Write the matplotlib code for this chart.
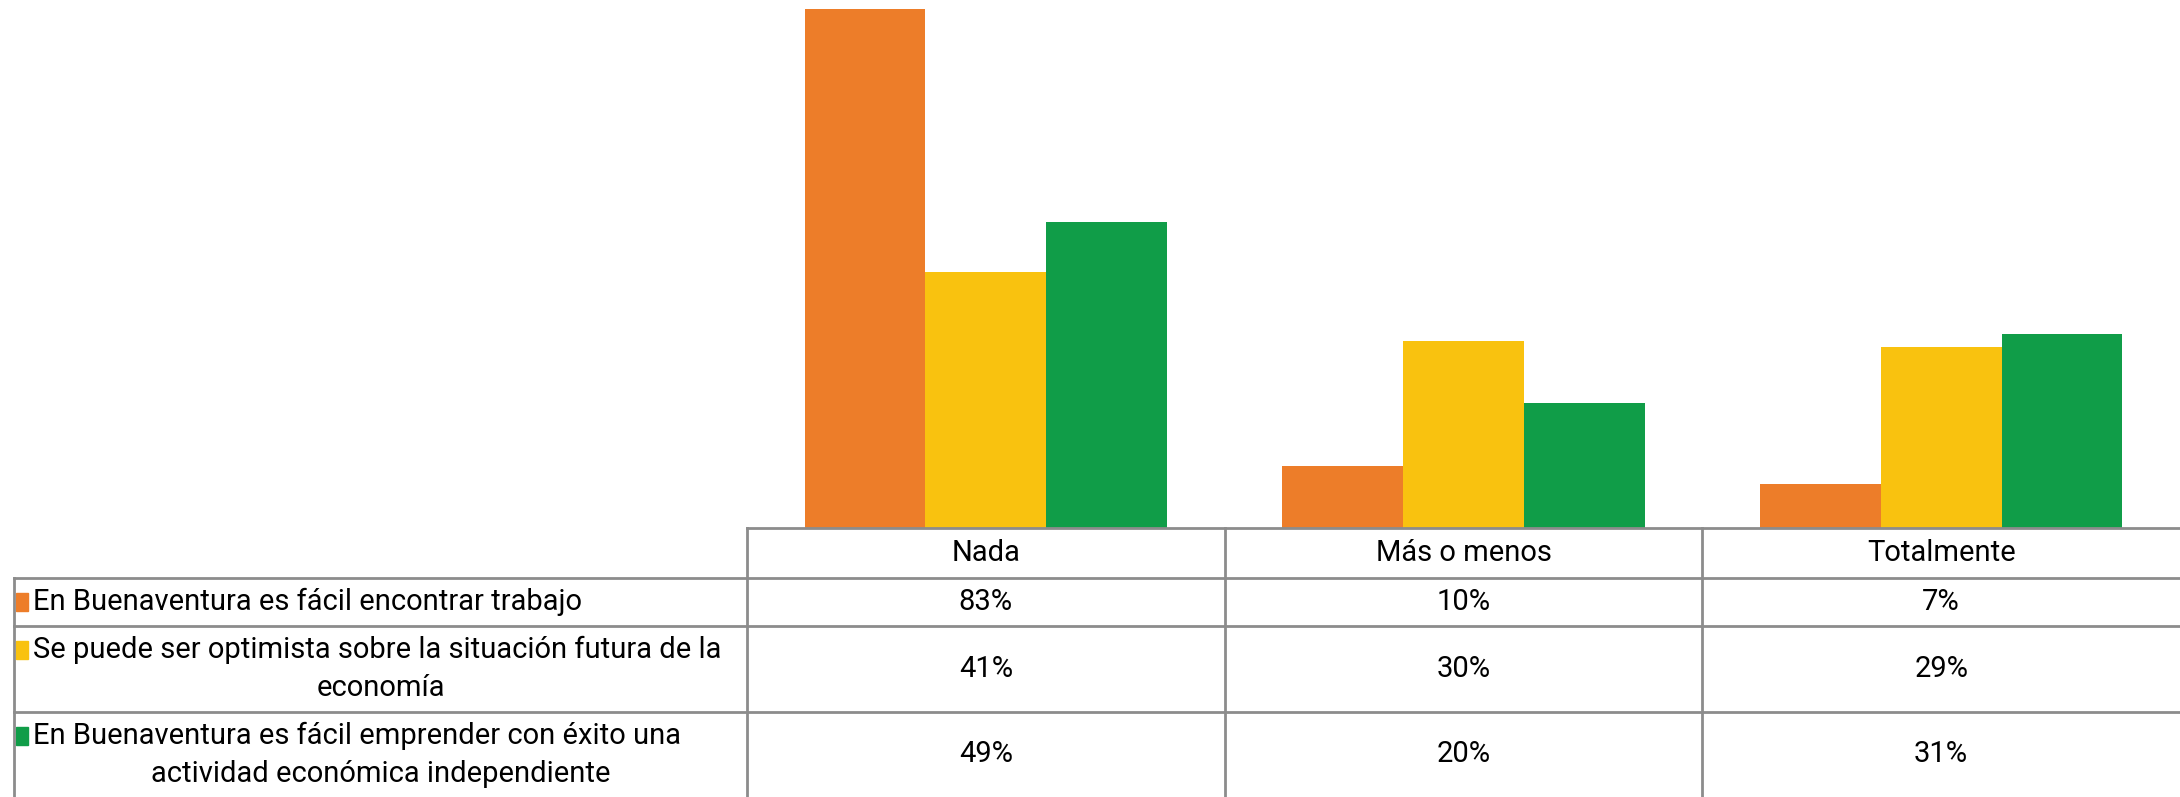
import numpy as np
import matplotlib.pyplot as plt
from matplotlib.patches import Rectangle

categories = ["Nada", "Más o menos", "Totalmente"]
series_names = [
    ["En Buenaventura es fácil encontrar trabajo"],
    ["Se puede ser optimista sobre la situación futura de la", "economía"],
    ["En Buenaventura es fácil emprender con éxito una", "actividad económica independiente"],
]
trabajo = [0.83, 0.10, 0.07]
optimista = [0.41, 0.30, 0.29]
emprender = [0.49, 0.20, 0.31]
colors = ["#ED7D29", "#F9C20F", "#109D48"]

plt.rcParams['font.family'] = ['Roboto', 'DejaVu Sans']

W, H = 2180, 797
fig = plt.figure(figsize=(W / 100, H / 100), dpi=100)

# zone du graphique (en pixels)
x0, base = 747, 528
ax = fig.add_axes([x0 / W, (H - base) / H, (W - x0) / W, base / H])
series = [trabajo, optimista, emprender]
x = np.arange(len(categories)) + 0.5
bw = 0.253
for i, (vals, c) in enumerate(zip(series, colors)):
    ax.bar(x + (i - 1) * bw, vals, bw, color=c, zorder=2)
ax.set_xlim(0, len(categories))
ax.set_ylim(0, 0.845)
ax.axis("off")

# tableau de données
tax = fig.add_axes([0, 0, 1, 1])
tax.set_xlim(0, W)
tax.set_ylim(H, 0)
tax.axis("off")
lc = "#8C8C8C"
lw = 2
rows = [base, 578, 626, 712, H]
colw = (W - x0) / len(categories)
cols = [x0 + k * colw for k in range(len(categories) + 1)]
left = 14

tax.plot([x0, W], [base, base], color=lc, lw=lw)
for y in rows[1:-1]:
    tax.plot([left, W], [y, y], color=lc, lw=lw)
tax.plot([left, left], [rows[1], H], color=lc, lw=lw)
for cx in cols[:-1]:
    tax.plot([cx, cx], [base, H], color=lc, lw=lw)

fs = 21
for k, cat in enumerate(categories):
    tax.text((cols[k] + cols[k + 1]) / 2, (rows[0] + rows[1]) / 2, cat,
             ha="center", va="center", fontsize=fs)

for r, (name, vals, c) in enumerate(zip(series_names, series, colors)):
    ytop, ybot = rows[r + 1], rows[r + 2]
    yc = (ytop + ybot) / 2
    for k, v in enumerate(vals):
        tax.text((cols[k] + cols[k + 1]) / 2, yc, f"{round(v * 100)}%",
                 ha="center", va="center", fontsize=fs)
    if len(name) == 1:
        ylines = [yc]
    else:
        ylines = [yc - 19, yc + 19]
    tax.add_patch(Rectangle((16, ylines[0] - 9), 12, 18, color=c))
    tax.text(33, ylines[0], name[0], ha="left", va="center", fontsize=fs)
    if len(name) > 1:
        tax.text((left + x0) / 2, ylines[1], name[1], ha="center", va="center", fontsize=fs)

fig.savefig("out.png", dpi=100)
